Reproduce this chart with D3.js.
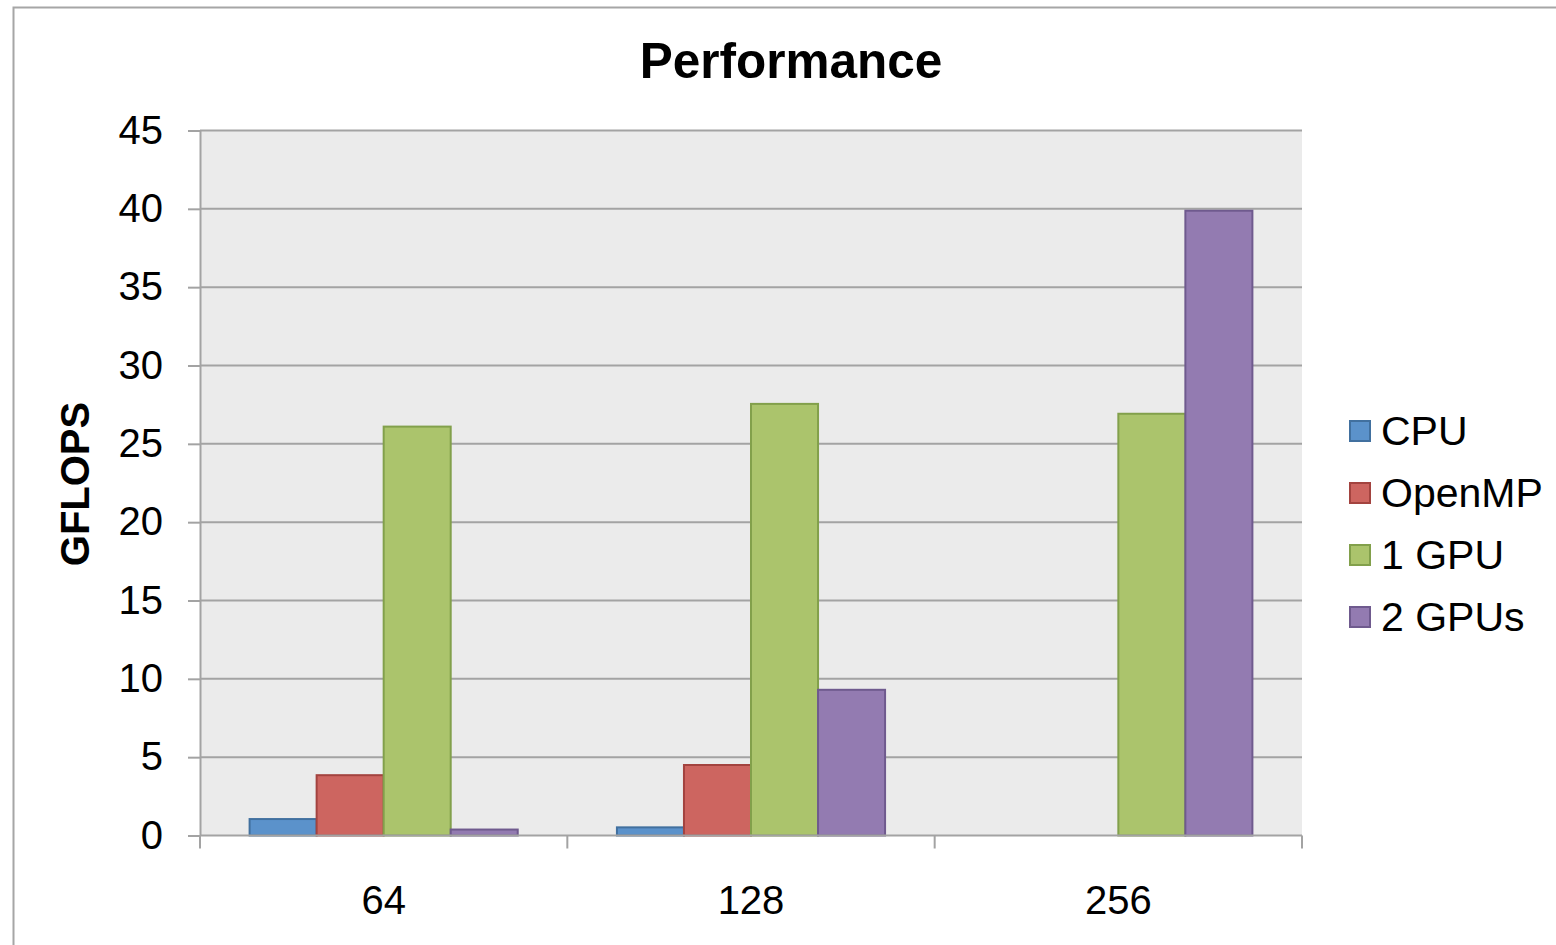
<!DOCTYPE html>
<html>
<head>
<meta charset="utf-8">
<script src="https://cdn.jsdelivr.net/npm/d3@7"></script>
<style>
  html, body { margin: 0; padding: 0; background: #ffffff; }
  svg { display: block; font-family: "Liberation Sans", Arial, sans-serif; }
</style>
</head>
<body>
<svg id="chart" width="1556" height="945"></svg>
<script>
// Problem sizes on the x axis
const categories = ["64", "128", "256"];
// Implementations compared
const seriesNames = ["CPU", "OpenMP", "1 GPU", "2 GPUs"];
// GFLOPS per implementation, one entry per problem size (null = not measured)
const cpuValues    = [1.05, 0.52, null];
const openmpValues = [3.85, 4.5, null];
const gpu1Values   = [26.1, 27.55, 26.92];
const gpu2Values   = [0.38, 9.3, 39.88];
// Value axis ticks
const yTicks = [0, 5, 10, 15, 20, 25, 30, 35, 40, 45];

const seriesValues = [cpuValues, openmpValues, gpu1Values, gpu2Values];
const fills   = ["#5b92cb", "#cd6560", "#abc46c", "#937bb1"];
const strokes = ["#41709f", "#a3433f", "#82a04b", "#6f5a8e"];

const svg = d3.select("#chart");
const plot = { left: 200, right: 1302, top: 130.5, bottom: 835.5 };

// Outer chart frame
svg.append("rect")
  .attr("x", 13.5).attr("y", 7.5)
  .attr("width", 1600).attr("height", 1000)
  .attr("fill", "#ffffff")
  .attr("stroke", "#a6a6a6").attr("stroke-width", 2);

const x0 = d3.scaleBand().domain(categories).range([plot.left, plot.right]).padding(0);
const x1 = d3.scaleBand().domain(seriesNames).range([0, x0.bandwidth()])
  .paddingInner(0).paddingOuter(0.74);
const y = d3.scaleLinear().domain([0, 45]).range([plot.bottom, plot.top]);

// Plot background
svg.append("rect")
  .attr("x", plot.left).attr("y", plot.top)
  .attr("width", plot.right - plot.left).attr("height", plot.bottom - plot.top)
  .attr("fill", "#ebebeb");

// Horizontal gridlines
svg.append("g")
  .selectAll("line")
  .data(yTicks.filter(d => d > 0))
  .join("line")
  .attr("x1", plot.left).attr("x2", plot.right)
  .attr("y1", d => y(d)).attr("y2", d => y(d))
  .attr("stroke", "#a3a3a3").attr("stroke-width", 2);

// Bars
const groups = svg.append("g")
  .selectAll("g")
  .data(categories)
  .join("g")
  .attr("transform", d => `translate(${x0(d)},0)`);

groups.selectAll("rect")
  .data((c, ci) => seriesNames.map((s, si) => ({ s, si, v: seriesValues[si][ci] }))
    .filter(d => d.v != null))
  .join("rect")
  .attr("x", d => x1(d.s))
  .attr("width", x1.bandwidth())
  .attr("y", d => y(d.v))
  .attr("height", d => y(0) - y(d.v))
  .attr("fill", d => fills[d.si])
  .attr("stroke", d => strokes[d.si])
  .attr("stroke-width", 2);

// Y axis
const yAxis = svg.append("g")
  .attr("transform", `translate(${plot.left},0)`)
  .call(d3.axisLeft(y).tickValues(yTicks).tickSize(12).tickPadding(25).tickSizeOuter(0));
yAxis.select(".domain").attr("stroke", "#a3a3a3").attr("stroke-width", 2);
yAxis.selectAll(".tick line").attr("stroke", "#a3a3a3").attr("stroke-width", 2);
yAxis.selectAll(".tick text")
  .attr("font-size", 40).attr("fill", "#000").attr("font-family", "Liberation Sans, Arial, sans-serif");

// X axis with category boundary ticks
const xAxisG = svg.append("g").attr("transform", `translate(0,${plot.bottom})`);
xAxisG.append("line")
  .attr("x1", plot.left).attr("x2", plot.right)
  .attr("stroke", "#a3a3a3").attr("stroke-width", 2);
const boundaries = categories.map(c => x0(c)).concat([x0(categories[categories.length - 1]) + x0.bandwidth()]);
xAxisG.selectAll("line.b")
  .data(boundaries)
  .join("line")
  .attr("class", "b")
  .attr("x1", d => d).attr("x2", d => d)
  .attr("y1", 0).attr("y2", 13)
  .attr("stroke", "#a3a3a3").attr("stroke-width", 2);
xAxisG.selectAll("text")
  .data(categories)
  .join("text")
  .attr("x", d => x0(d) + x0.bandwidth() / 2)
  .attr("y", 78)
  .attr("text-anchor", "middle")
  .attr("font-size", 40)
  .text(d => d);

// Axis title
svg.append("text")
  .attr("transform", `translate(89,${(plot.top + plot.bottom) / 2 + 1}) rotate(-90)`)
  .attr("text-anchor", "middle")
  .attr("font-size", 40).attr("font-weight", "bold")
  .text("GFLOPS");

// Chart title
svg.append("text")
  .attr("x", 791).attr("y", 78)
  .attr("text-anchor", "middle")
  .attr("font-size", 49.5).attr("font-weight", "bold")
  .text("Performance");

// Legend
const legend = svg.append("g")
  .selectAll("g")
  .data(seriesNames)
  .join("g")
  .attr("transform", (d, i) => `translate(1349,${431 + i * 62})`);
legend.append("rect")
  .attr("x", 1).attr("y", -10)
  .attr("width", 20).attr("height", 20)
  .attr("fill", (d, i) => fills[i])
  .attr("stroke", (d, i) => strokes[i]).attr("stroke-width", 2);
legend.append("text")
  .attr("x", 32).attr("y", 14)
  .attr("font-size", 41)
  .text(d => d);
</script>
</body>
</html>
